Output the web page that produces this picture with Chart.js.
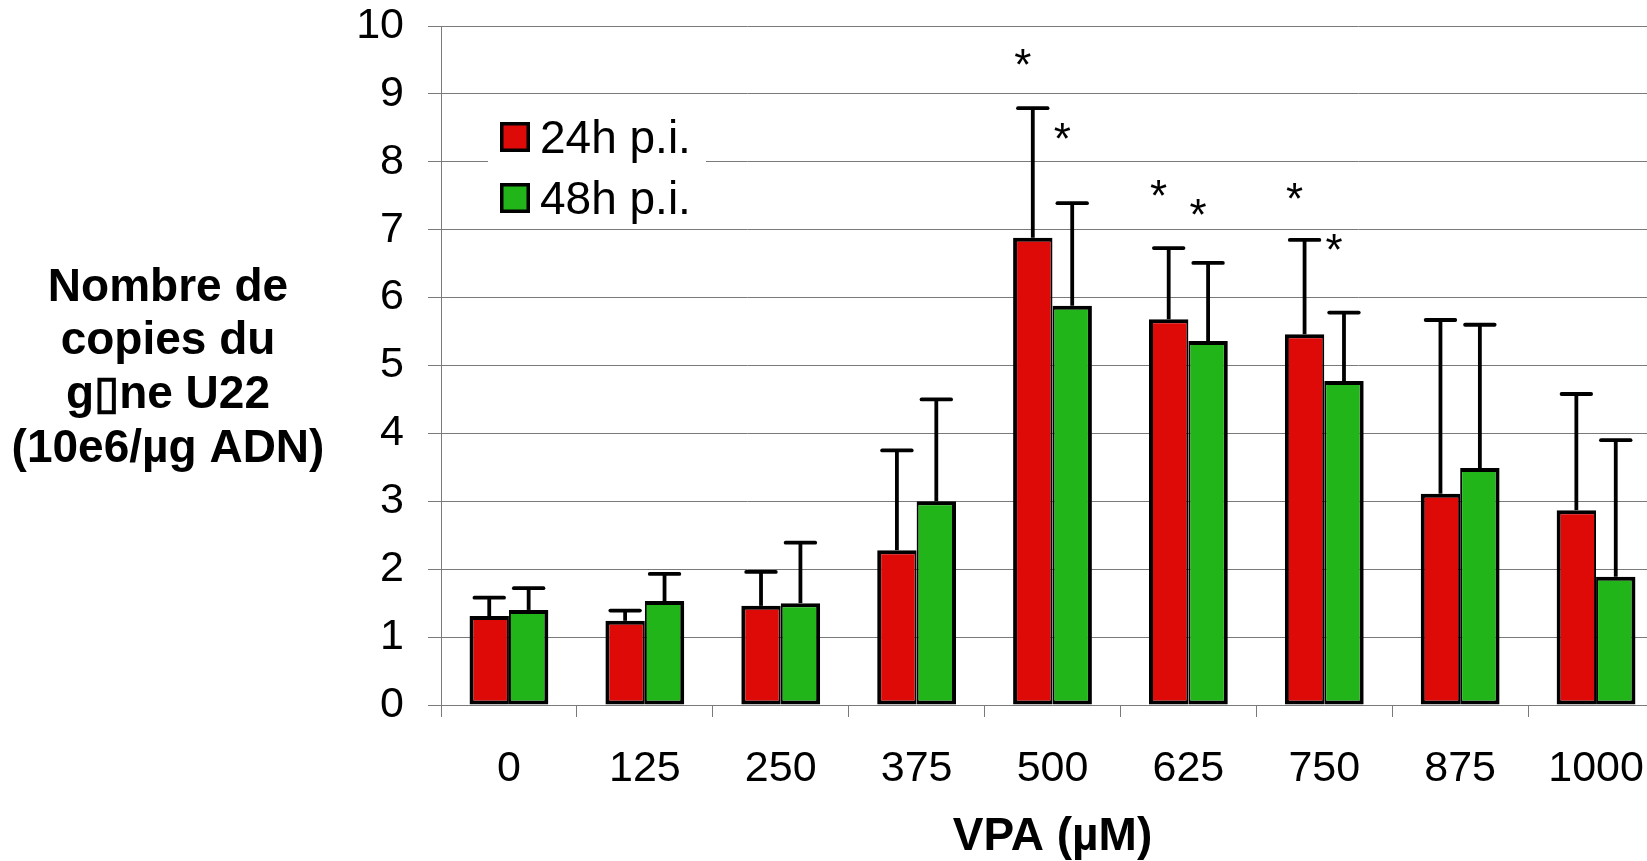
<!DOCTYPE html>
<html><head><meta charset="utf-8">
<script src="https://cdn.jsdelivr.net/npm/chart.js@4/dist/chart.umd.min.js"></script>
<style>
html,body{margin:0;padding:0;background:#fff;overflow:hidden;width:1647px;height:861px}
#wrap{position:absolute;left:0;top:0;width:1666px;height:861px}
</style>
</head><body><div id="wrap"><canvas id="c" width="1666" height="861"></canvas></div>
<script>
// ---- data ----
const categories = ['0','125','250','375','500','625','750','875','1000'];
const seriesLabels = ['24h p.i.','48h p.i.'];
const values24 = [1.31,1.24,1.46,2.28,6.88,5.68,5.46,3.11,2.87];
const values48 = [1.40,1.53,1.50,3.00,5.88,5.36,4.77,3.49,1.89];
const errTop24 = [1.58,1.39,1.96,3.75,8.79,6.73,6.85,5.67,4.58];
const errTop48 = [1.72,1.93,2.39,4.50,7.39,6.51,5.78,5.60,3.90];
const stars24 = [null,null,null,null,9.58,7.64,7.60,null,null];
const stars48 = [null,null,null,null,8.48,7.36,6.85,null,null];
const yMin = 0, yMax = 10, yStep = 1;
const yTitleLines = ['Nombre de','copies du','g\u25AFne U22','(10e6/\u00B5g ADN)'];
const xTitle = 'VPA (\u00B5M)';

// ---- styles ----
const FONT = '"Liberation Sans", Arial, Helvetica, sans-serif';
const RED = '#DE0A08', GREEN = '#21B51A', GRID = '#7a7a7a';

const errorBarPlugin = {
  id: 'errorBars',
  afterDatasetsDraw(chart) {
    const ctx = chart.ctx, y = chart.scales.y;
    chart.data.datasets.forEach((ds, di) => {
      const meta = chart.getDatasetMeta(di);
      meta.data.forEach((bar, i) => {
        const top = ds.errTop[i];
        if (top == null) return;
        const x = bar.x, y0 = y.getPixelForValue(ds.data[i]), y1 = y.getPixelForValue(top);
        const cap = bar.width * 0.75;
        ctx.save();
        ctx.strokeStyle = '#000';
        ctx.lineWidth = 3.8;
        ctx.lineCap = 'butt';
        ctx.beginPath(); ctx.moveTo(x, y0); ctx.lineTo(x, y1); ctx.stroke();
        ctx.lineCap = 'round';
        ctx.beginPath(); ctx.moveTo(x - cap/2, y1); ctx.lineTo(x + cap/2, y1); ctx.stroke();
        ctx.restore();
      });
    });
  }
};

const starPlugin = {
  id: 'stars',
  afterDatasetsDraw(chart) {
    const ctx = chart.ctx, y = chart.scales.y;
    ctx.save();
    ctx.fillStyle = '#000';
    ctx.font = '44px ' + FONT;
    ctx.textAlign = 'center';
    ctx.textBaseline = 'alphabetic';
    chart.data.datasets.forEach((ds, di) => {
      const meta = chart.getDatasetMeta(di);
      meta.data.forEach((bar, i) => {
        const v = ds.stars[i];
        if (v == null) return;
        ctx.fillText('*', bar.x - 10, y.getPixelForValue(v) + 25);
      });
    });
    ctx.restore();
  }
};

const legendPlugin = {
  id: 'boxLegend',
  afterDraw(chart) {
    const ctx = chart.ctx;
    ctx.save();
    ctx.fillStyle = '#fff';
    ctx.fillRect(488, 104, 218, 118);
    ctx.font = '46px ' + FONT;
    ctx.textAlign = 'left';
    ctx.textBaseline = 'alphabetic';
    chart.data.datasets.forEach((ds, i) => {
      const by = 122 + i * 61;
      ctx.fillStyle = '#000';
      ctx.fillRect(500, by, 30, 30);
      ctx.fillStyle = ds.backgroundColor;
      ctx.fillRect(503.5, by + 3.5, 23, 23);
      ctx.fillStyle = '#000';
      ctx.fillText(ds.label, 540, by + 31);
    });
    ctx.restore();
  }
};

const yTitlePlugin = {
  id: 'yTitle',
  afterDraw(chart) {
    const ctx = chart.ctx, a = chart.chartArea;
    const lh = 53.6, cy = (a.top + a.bottom) / 2 + 3;
    ctx.save();
    ctx.fillStyle = '#000';
    ctx.font = 'bold 46px ' + FONT;
    ctx.textAlign = 'center';
    ctx.textBaseline = 'middle';
    yTitleLines.forEach((t, i) => {
      ctx.fillText(t, 168, cy + (i - (yTitleLines.length - 1) / 2) * lh);
    });
    ctx.restore();
  }
};

new Chart(document.getElementById('c').getContext('2d'), {
  type: 'bar',
  data: {
    labels: categories,
    datasets: [
      { label: seriesLabels[0], data: values24, errTop: errTop24, stars: stars24,
        backgroundColor: RED, borderColor: '#000', borderSkipped: false,
        borderWidth: {top: 4, left: 4, right: 2, bottom: 4} },
      { label: seriesLabels[1], data: values48, errTop: errTop48, stars: stars48,
        backgroundColor: GREEN, borderColor: '#000', borderSkipped: false,
        borderWidth: {top: 4, left: 2, right: 4, bottom: 4} }
    ]
  },
  options: {
    responsive: false,
    animation: false,
    devicePixelRatio: 1,
    layout: { padding: { left: 0, right: 2, top: 26, bottom: 0 } },
    datasets: { bar: { categoryPercentage: 0.58, barPercentage: 1 } },
    plugins: { legend: { display: false }, tooltip: { enabled: false } },
    scales: {
      x: {
        grid: { drawOnChartArea: false, drawTicks: true, tickLength: 12, offset: true, color: GRID, lineWidth: 1 },
        border: { color: GRID, width: 1 },
        ticks: { font: { family: FONT, size: 43 }, color: '#000', padding: 26, maxRotation: 0, autoSkip: false },
        title: { display: true, text: xTitle, color: '#000', padding: 0,
                 font: { family: FONT, size: 46, weight: 'bold', lineHeight: 1.05 } },
        afterFit(s) { s.height = 156; s.paddingLeft = 0; s.paddingRight = 0; }
      },
      y: {
        min: yMin, max: yMax,
        ticks: { stepSize: yStep, font: { family: FONT, size: 43 }, color: '#000', padding: 24 },
        grid: { color: GRID, lineWidth: 1, tickLength: 13 },
        border: { color: GRID, width: 1 },
        afterFit(s) { s.width = 441; s.paddingTop = 0; s.paddingBottom = 0; }
      }
    }
  },
  plugins: [errorBarPlugin, starPlugin, legendPlugin, yTitlePlugin]
});
</script>
</body></html>
